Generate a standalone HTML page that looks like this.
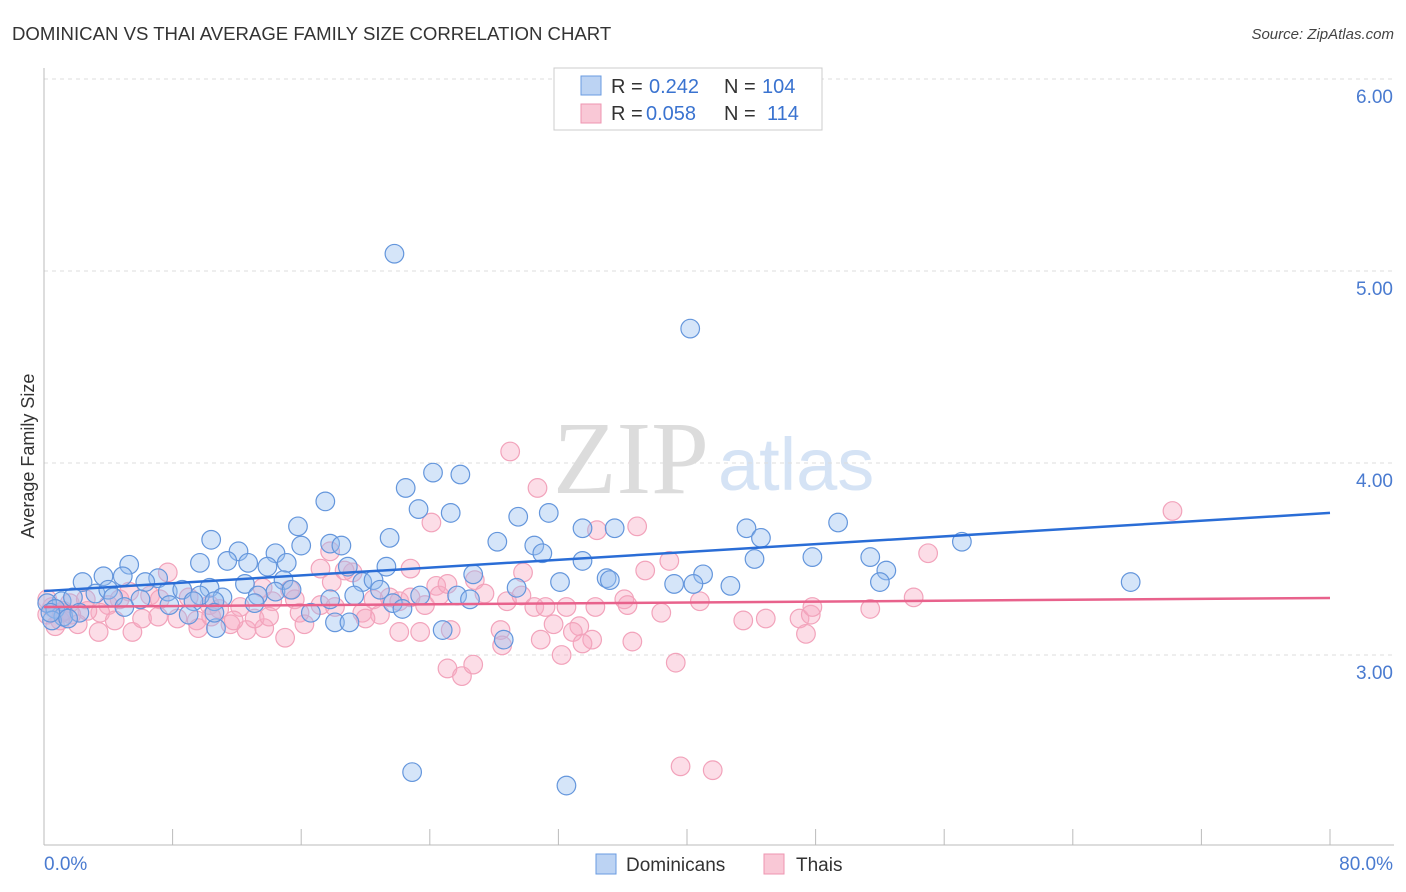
<!DOCTYPE html>
<html><head><meta charset="utf-8"><style>
body{margin:0;background:#fff;font-family:"Liberation Sans",sans-serif;}
#wrap{position:relative;width:1406px;height:892px;overflow:hidden;}
</style></head><body>
<div id="wrap">
<svg id="svg" width="1406" height="892" xmlns="http://www.w3.org/2000/svg">
<text x="12" y="40" font-size="18.6" fill="#333">DOMINICAN VS THAI AVERAGE FAMILY SIZE CORRELATION CHART</text>
<text x="1394" y="39" font-size="15" font-style="italic" fill="#444" text-anchor="end">Source: ZipAtlas.com</text>
<text x="553" y="493" font-size="104" font-family="Liberation Serif,serif" fill="#dcdcdc">ZIP</text>
<text x="718" y="490" font-size="74" fill="#d5e3f5">atlas</text>
<text transform="translate(34,456) rotate(-90)" font-size="18" fill="#333" text-anchor="middle">Average Family Size</text>
<g id="grid"></g><g id="pts"></g><g id="trend"></g>
<rect x="554" y="68" width="268" height="62" fill="#fff" stroke="#ccc"/>
<rect x="581" y="76" width="20" height="19" fill="#bcd3f3" stroke="#6a9be0"/>
<rect x="581" y="104" width="20" height="19" fill="#f9c8d6" stroke="#ee95b0"/>
<g font-size="20" fill="#333">
<text x="611" y="93">R =</text><text x="649" y="93" fill="#3a73d0">0.242</text><text x="724" y="93">N =</text><text x="762" y="93" fill="#3a73d0">104</text></g>
<g font-size="20" fill="#333">
<text x="611" y="120">R =</text><text x="646" y="120" fill="#3a73d0">0.058</text><text x="724" y="120">N =</text><text x="767" y="120" fill="#3a73d0">114</text></g>
<rect x="596" y="854" width="20" height="20" fill="#bcd3f3" stroke="#6a9be0"/>
<text x="626" y="871" font-size="19" fill="#333">Dominicans</text>
<rect x="764" y="854" width="20" height="20" fill="#f9c8d6" stroke="#ee95b0"/>
<text x="796" y="871" font-size="19" fill="#333">Thais</text>
</svg></div>
<script>
const xTickLabels=["0.0%","80.0%"];
const yTicks=[3,4,5,6];
const yTickLabels=["3.00","4.00","5.00","6.00"];
const blueX=[21.8,40.2,24.2,25.9,22.5,17.5,25.3,23.3,31.4,29.5,49.4,15.8,33.5,35.5,43.7,10.4,44.6,28.2,16.0,17.8,18.5,30.5,21.5,57.1,12.1,14.4,11.4,9.7,5.3,31.0,47.8,51.4,33.5,44.2,12.7,13.9,15.1,18.9,21.3,52.4,3.7,4.9,7.1,6.3,2.4,14.9,12.5,10.3,14.4,15.4,19.8,20.5,26.7,35.0,41.0,32.1,29.4,35.2,39.2,40.4,42.7,52.0,67.6,3.2,4.0,7.7,8.6,9.7,11.1,13.3,1.1,1.8,4.3,6.0,7.8,9.3,10.6,13.1,0.2,0.7,1.2,0.5,9.0,10.7,16.6,18.1,19.0,20.9,21.7,22.3,24.8,28.6,22.9,32.5,19.3,0.4,2.2,17.8,23.4,25.7,26.5,10.6,5.0,1.5];
const blueY=[5.09,4.70,3.95,3.94,3.87,3.80,3.74,3.76,3.74,3.72,3.69,3.67,3.66,3.66,3.66,3.60,3.61,3.59,3.57,3.58,3.57,3.57,3.61,3.59,3.54,3.53,3.49,3.48,3.47,3.53,3.51,3.51,3.49,3.50,3.48,3.46,3.48,3.46,3.46,3.44,3.41,3.41,3.40,3.38,3.38,3.39,3.37,3.35,3.33,3.34,3.38,3.39,3.42,3.40,3.42,3.38,3.35,3.39,3.37,3.37,3.36,3.38,3.38,3.32,3.34,3.33,3.34,3.31,3.30,3.31,3.28,3.30,3.30,3.29,3.26,3.28,3.28,3.27,3.27,3.24,3.20,3.18,3.21,3.14,3.22,3.17,3.17,3.34,3.27,3.24,3.13,3.08,2.39,2.32,3.31,3.22,3.22,3.29,3.31,3.31,3.29,3.22,3.25,3.19];
const pinkX=[29.0,30.7,24.1,34.4,36.9,70.2,55.0,38.9,37.4,24.4,22.8,29.8,26.8,17.8,17.2,19.2,17.9,18.7,7.7,15.3,14.2,13.6,15.6,12.2,10.3,9.0,6.6,9.5,10.9,11.6,12.6,13.7,15.0,15.9,17.2,18.1,19.8,20.5,21.5,22.1,22.8,23.7,24.6,25.1,27.4,28.8,29.7,30.5,31.2,32.5,34.3,36.1,36.3,38.4,40.8,43.5,44.9,47.0,47.7,47.8,51.4,54.1,47.4,33.3,34.1,32.9,31.7,30.9,28.4,28.5,25.3,23.4,22.1,20.9,25.1,26.0,26.7,32.2,33.5,36.6,39.3,39.6,41.6,5.3,4.7,4.0,3.5,2.7,1.7,1.0,0.5,0.2,0.7,2.1,3.4,4.4,5.5,6.1,7.1,8.3,9.6,10.4,11.8,13.1,16.2,7.2,1.6,2.6,1.2,0.2,1.1,14.0,20.0];
const pinkY=[4.06,3.87,3.69,3.65,3.67,3.75,3.53,3.49,3.44,3.36,3.45,3.43,3.39,3.54,3.45,3.43,3.38,3.44,3.43,3.34,3.28,3.35,3.29,3.25,3.26,3.30,3.31,3.18,3.24,3.16,3.13,3.14,3.09,3.22,3.26,3.25,3.22,3.29,3.30,3.28,3.30,3.26,3.31,3.37,3.32,3.28,3.31,3.25,3.25,3.25,3.25,3.29,3.26,3.22,3.28,3.18,3.19,3.19,3.21,3.25,3.24,3.30,3.11,3.15,3.08,3.12,3.16,3.08,3.13,3.05,3.13,3.12,3.12,3.21,2.93,2.89,2.95,3.00,3.06,3.07,2.96,2.42,2.40,3.33,3.29,3.26,3.22,3.23,3.21,3.18,3.25,3.21,3.15,3.16,3.12,3.18,3.12,3.19,3.20,3.19,3.14,3.20,3.18,3.19,3.16,3.29,3.27,3.29,3.23,3.29,3.22,3.20,3.19];
const blueTrend=[3.333,3.74];
const pinkTrend=[3.25,3.297];
const NS='http://www.w3.org/2000/svg';
const X0=44,X1=1330,Y3=655,PU=192;
function sx(v){return X0+v/80*(X1-X0);}
function sy(v){return Y3-(v-3)*PU;}
function mk(tag,attrs,parent){const e=document.createElementNS(NS,tag);for(const k in attrs)e.setAttribute(k,attrs[k]);parent.appendChild(e);return e;}
const grid=document.getElementById('grid');
yTicks.forEach((t,i)=>{
  const l=mk('line',{x1:X0,x2:1394,y1:sy(t),y2:sy(t),stroke:'#ddd','stroke-dasharray':'4,4'},grid);
  
  
  const tx=mk('text',{x:1393,y:sy(t)+24,'font-size':19,fill:'#4a7bd0','text-anchor':'end'},grid);
  tx.textContent=yTickLabels[i];
  
  
});
const ax=mk('line',{x1:X0,x2:X0,y1:68,y2:845,stroke:'#bbb'},grid);


const bx=mk('line',{x1:X0,x2:1394,y1:845,y2:845,stroke:'#bbb'},grid);


for(let i=0;i<=10;i++){
  const t=mk('line',{x1:sx(i*8),x2:sx(i*8),y1:829,y2:845,stroke:'#bbb'},grid);
  
  
}
const xl0=mk('text',{x:44,y:870,'font-size':19,fill:'#4a7bd0'},grid);xl0.textContent=xTickLabels[0];


const xl1=mk('text',{x:1393,y:870,'font-size':19,fill:'#4a7bd0','text-anchor':'end'},grid);xl1.textContent=xTickLabels[1];


const pts=document.getElementById('pts');
pinkX.forEach((v,i)=>{
  const c=mk('circle',{cx:sx(v),cy:sy(pinkY[i]),r:9.3,fill:'rgba(247,170,195,0.4)',stroke:'#f2a3bb','stroke-width':1.2},pts);
  
  
});
blueX.forEach((v,i)=>{
  const c=mk('circle',{cx:sx(v),cy:sy(blueY[i]),r:9.3,fill:'rgba(150,190,240,0.4)',stroke:'#6496dc','stroke-width':1.2},pts);
  
  
});
const tr=document.getElementById('trend');
const bl=mk('line',{x1:sx(0),x2:sx(80),y1:sy(blueTrend[0]),y2:sy(blueTrend[1]),stroke:'#2a6dd6','stroke-width':2.5},tr);


const pl=mk('line',{x1:sx(0),x2:sx(80),y1:sy(pinkTrend[0]),y2:sy(pinkTrend[1]),stroke:'#e8628c','stroke-width':2.5},tr);


</script>
</body></html>
